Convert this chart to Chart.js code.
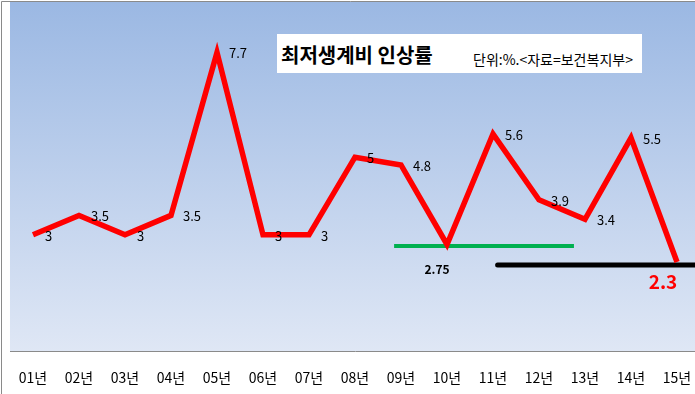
<!DOCTYPE html>
<html>
<head>
<meta charset="utf-8">
<script src="https://cdn.jsdelivr.net/npm/chart.js@4"></script>
<style>
    html, body { margin: 0; padding: 0; background: #fff; overflow: hidden; }
    #wrap { position: relative; width: 700px; height: 394px; }
    #titleBox {
        position: absolute; left: 277px; top: 34px; width: 365px; height: 39px;
        background: #fff;
        font-family: "Noto Sans CJK KR", "Noto Sans", sans-serif; color: #000;
    }
    #titleBox .main { position: absolute; left: 4px; top: 9px; font-size: 20px; font-weight: bold; line-height: 24px; }
    #titleBox .unit { position: absolute; left: 196px; top: 17px; font-size: 14px; line-height: 17px; }
</style>
</head>
<body>
<div id="wrap">
    <canvas id="rateChart" width="700" height="394" style="width:700px;height:394px"></canvas>
    <div id="titleBox"><span class="main">최저생계비 인상률</span><span class="unit">단위:%.&lt;자료=보건복지부&gt;</span></div>
</div>
<script>
// ============ 최저생계비 인상률 ============

const YEARS = ['01년', '02년', '03년', '04년', '05년', '06년', '07년', '08년', '09년', '10년', '11년', '12년', '13년', '14년', '15년'];
const RATES = [3, 3.5, 3, 3.5, 7.7, 3, 3, 5, 4.8, 2.75, 5.6, 3.9, 3.4, 5.5, 2.3];
const VALUE_LABELS = ['3', '3.5', '3', '3.5', '7.7', '3', '3', '5', '4.8', '', '5.6', '3.9', '3.4', '5.5', ''];

// guide lines (in category-index / % units)
const GREEN_LINE = [{ x: 7.85, y: 2.71 }, { x: 11.76, y: 2.71 }];
const BLACK_LINE = [{ x: 10.1, y: 2.22 }, { x: 15, y: 2.22 }];

const RED = '#ff0000';
const GREEN = '#00b050';
const FONT = '"Noto Sans CJK KR", "Noto Sans", sans-serif';

// ---------- background + frame ----------
const bgPlugin = {
    id: 'bg',
    beforeDraw(chart) {
        const { ctx, chartArea: a } = chart;
        const g = ctx.createLinearGradient(0, a.top, 0, a.bottom);
        g.addColorStop(0, '#9bb8e3');
        g.addColorStop(1, '#dfe7f5');
        ctx.save();
        ctx.fillStyle = g;
        ctx.fillRect(a.left, a.top, a.right - a.left, a.bottom - a.top);
        ctx.strokeStyle = '#8a8a8a';
        ctx.lineWidth = 1;
        ctx.beginPath();
        ctx.moveTo(1.5, chart.height);
        ctx.lineTo(1.5, 1.5);
        ctx.lineTo(chart.width, 1.5);
        ctx.stroke();
        ctx.restore();
    }
};

// ---------- value labels ----------
const labelPlugin = {
    id: 'valueLabels',
    afterDatasetsDraw(chart) {
        const { ctx } = chart;
        const pts = chart.getDatasetMeta(0).data;
        ctx.save();
        ctx.textBaseline = 'middle';
        ctx.textAlign = 'left';
        ctx.fillStyle = '#000';
        ctx.font = '13px ' + FONT;
        pts.forEach((p, i) => {
            if (VALUE_LABELS[i]) ctx.fillText(VALUE_LABELS[i], p.x + 12, p.y + 1);
        });
        // highlighted values
        ctx.textAlign = 'center';
        ctx.font = 'bold 12px ' + FONT;
        ctx.fillText(String(RATES[9]), pts[9].x - 10, pts[9].y + 25);
        ctx.fillStyle = RED;
        ctx.font = 'bold 19px ' + FONT;
        ctx.fillText(String(RATES[14]), pts[14].x - 14, pts[14].y + 20);
        ctx.restore();
    }
};

new Chart(document.getElementById('rateChart'), {
    type: 'line',
    data: {
        labels: YEARS,
        datasets: [
            {
                data: RATES,
                borderColor: RED,
                borderWidth: 5.5,
                pointRadius: 0,
                tension: 0,
                borderJoinStyle: 'miter',
                order: 0,
            },
            {
                data: GREEN_LINE,
                xAxisID: 'xi',
                borderColor: GREEN,
                borderWidth: 4,
                pointRadius: 0,
                order: 1,
            },
            {
                data: BLACK_LINE,
                xAxisID: 'xi',
                borderColor: '#000',
                borderWidth: 5,
                borderCapStyle: 'round',
                pointRadius: 0,
                order: 1,
            },
        ]
    },
    options: {
        responsive: false,
        animation: false,
        layout: { padding: { left: 10, top: 2, right: 0, bottom: 8 } },
        plugins: { legend: { display: false }, tooltip: { enabled: false } },
        scales: {
            x: {
                offset: true,
                grid: { display: true, color: 'transparent', drawOnChartArea: false, drawTicks: true, tickLength: 18 },
                border: { display: true, color: '#8a8a8a', width: 1 },
                ticks: { color: '#000', font: { family: FONT, size: 14 }, padding: 0, maxRotation: 0, autoSkip: false },
            },
            xi: { type: 'linear', display: false, min: -0.5, max: 14.5 },
            y: { display: false, min: 0, max: 9 },
        }
    },
    plugins: [bgPlugin, labelPlugin]
});
</script>
</body>
</html>
